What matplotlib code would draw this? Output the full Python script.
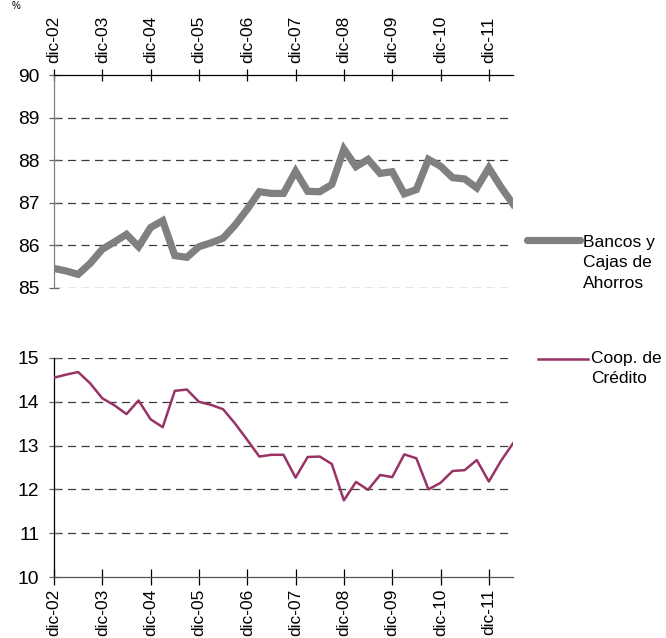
import matplotlib
matplotlib.use("Agg")
import matplotlib.pyplot as plt
from matplotlib.lines import Line2D

plt.rcParams['font.family'] = ['Liberation Sans', 'DejaVu Sans']

# Quarterly data, dic-02 .. jun-12
tick_labels = ["dic-02", "dic-03", "dic-04", "dic-05", "dic-06",
               "dic-07", "dic-08", "dic-09", "dic-10", "dic-11"]
bancos = [85.46, 85.40, 85.32, 85.58, 85.91, 86.08, 86.26, 85.97, 86.42, 86.58,
          85.76, 85.72, 85.97, 86.06, 86.17, 86.48, 86.85, 87.26, 87.22, 87.22,
          87.74, 87.27, 87.26, 87.43, 88.26, 87.85, 88.02, 87.69, 87.73, 87.21,
          87.31, 88.02, 87.86, 87.59, 87.56, 87.35, 87.82, 87.37, 86.97]
coop = [14.55, 14.62, 14.68, 14.42, 14.08, 13.92, 13.72, 14.03, 13.60, 13.42,
        14.25, 14.28, 14.00, 13.93, 13.83, 13.50, 13.13, 12.75, 12.79, 12.79,
        12.27, 12.74, 12.75, 12.58, 11.75, 12.17, 11.99, 12.33, 12.28, 12.80,
        12.71, 12.00, 12.15, 12.42, 12.44, 12.67, 12.18, 12.65, 13.05]
label_bancos = "Bancos y\nCajas de\nAhorros"
label_coop = "Coop. de\nCrédito"

x = list(range(len(bancos)))
tick_pos = list(range(0, len(bancos), 4))

W, H = 666, 638
fig = plt.figure(figsize=(W / 100, H / 100), dpi=100)

ax1 = fig.add_axes([54 / W, 1 - 288 / H, 459 / W, 213 / H])
ax2 = fig.add_axes([54 / W, 1 - 577 / H, 459 / W, 219 / H])

grid_kw = dict(color='#3a3a3a', linewidth=0.9, linestyle=(0, (6.5, 4.3)))
FS = 12.5
FSY = 13.9

# Top panel
ax1.plot(x, bancos, color='#808080', linewidth=5.2, solid_joinstyle='miter', zorder=3)
ax1.set_xlim(0, len(bancos) - 1)
ax1.set_ylim(85, 90)
ax1.set_yticks(range(85, 91))
ax1.set_yticklabels([str(v) for v in range(85, 91)], fontsize=FSY)
ax1.xaxis.tick_top()
ax1.set_xticks(tick_pos)
ax1.set_xticklabels(tick_labels, rotation=90, fontsize=FS)
ax1.tick_params(axis='x', direction='inout', length=9, width=0.9, pad=4, color='black')
ax1.tick_params(axis='y', direction='inout', length=7, width=0.9, color='#666666', pad=7)
for s in ['bottom', 'right']:
    ax1.spines[s].set_visible(False)
ax1.spines['top'].set_color('black')
ax1.spines['top'].set_linewidth(0.9)
ax1.spines['left'].set_color('#808080')
ax1.spines['left'].set_linewidth(0.9)
for v in range(85, 90):
    ax1.axhline(v, zorder=1, **grid_kw)

# Bottom panel
ax2.plot(x, coop, color='#993366', linewidth=1.8, zorder=3)
ax2.set_xlim(0, len(coop) - 1)
ax2.set_ylim(10, 15)
ax2.set_yticks(range(10, 16))
ax2.set_yticklabels([str(v) for v in range(10, 16)], fontsize=FSY)
ax2.set_xticks(tick_pos)
ax2.set_xticklabels(tick_labels, rotation=90, fontsize=FS)
ax2.tick_params(axis='x', direction='inout', length=11, width=0.9, pad=3, color='black')
ax2.tick_params(axis='y', direction='inout', length=7, width=0.9, color='#666666', pad=7)
for s in ['top', 'right']:
    ax2.spines[s].set_visible(False)
ax2.spines['bottom'].set_color('#555555')
ax2.spines['bottom'].set_linewidth(0.9)
ax2.spines['left'].set_color('black')
ax2.spines['left'].set_linewidth(0.9)
for v in range(11, 16):
    ax2.axhline(v, zorder=1, **grid_kw)

# Legends (manual, handle aligned with first text line)
fig.add_artist(Line2D([527 / W, 580 / W], [1 - 240 / H, 1 - 240 / H],
                      color='#808080', linewidth=5.2, solid_capstyle='round'))
fig.text(583 / W, 1 - 235 / H, label_bancos, fontsize=FS, va='top', ha='left',
         linespacing=1.45)
fig.add_artist(Line2D([538 / W, 588 / W], [1 - 359 / H, 1 - 359 / H],
                      color='#993366', linewidth=1.8))
fig.text(591 / W, 1 - 351 / H, label_coop, fontsize=FS, va='top', ha='left',
         linespacing=1.45)

fig.text(12 / W, 1 - 1 / H, "%", fontsize=7, va='top', ha='left')

fig.savefig("out.png", dpi=100)
